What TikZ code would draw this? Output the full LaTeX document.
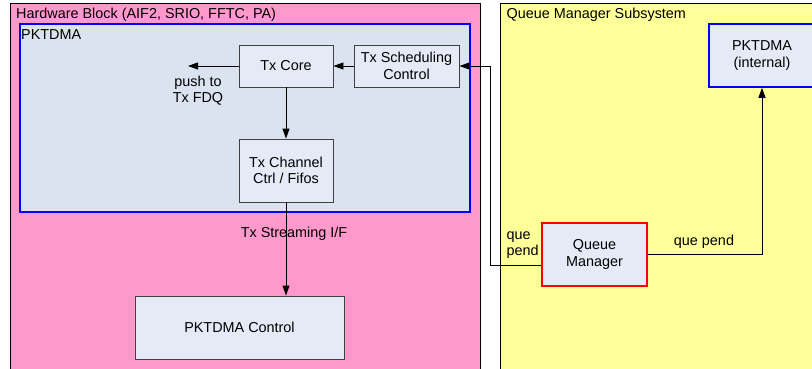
\documentclass[tikz,border=0pt]{standalone}
\usepackage{fontspec}
\setmainfont{Liberation Sans}
\usetikzlibrary{arrows.meta,positioning,calc}
\definecolor{hwpink}{RGB}{255,153,204}
\definecolor{qmyellow}{RGB}{255,255,153}
\definecolor{dmafill}{RGB}{220,227,240}
\definecolor{boxfill}{RGB}{228,234,246}
\definecolor{boxline}{RGB}{64,64,64}
\tikzset{
  x=1pt, y=-1pt,
  every node/.style={font=\fontsize{14.4}{16.5}\selectfont, inner sep=0pt},
  region/.style={draw=black, line width=0.9pt},
  block/.style={draw=boxline, fill=boxfill, line width=0.9pt, align=center},
  link/.style={draw=black, line width=0.9pt},
  tip/.style={-{Triangle[length=10pt,width=7pt]}},
  lbl/.style={align=center},
}
\begin{document}
\begin{tikzpicture}
\useasboundingbox (0,0) rectangle (812,368);
\begin{scope}
\clip (0,0) rectangle (812,368);
% subsystem regions
\draw[region, fill=hwpink] (10,3) rectangle (480,390);
\draw[region, fill=qmyellow] (500.5,3) rectangle (840,390);
% internal PKTDMA region of the hardware block
\draw[draw=blue, fill=dmafill, line width=1.6pt] (20,24) rectangle (470,212);

\node[anchor=west] (hwtitle) at (16,15) {Hardware Block (AIF2, SRIO, FFTC, PA)};
\node[anchor=west] (dmatitle) at (21,35) {PKTDMA};
\node[anchor=west] (qmtitle) at (506.5,15) {Queue Manager Subsystem};

% blocks
\node[block, minimum width=94pt, minimum height=42pt] (txcore) at (286,66) {Tx Core};
\node[block, minimum width=105pt, minimum height=42pt] (txsched) at (406.5,66) {Tx Scheduling\\Control};
\node[block, minimum width=94pt, minimum height=63pt] (txchan) at (286,170.5) {Tx Channel\\Ctrl / Fifos};
\node[block, minimum width=209pt, minimum height=63pt] (pktctl) at (239.5,327.5) {PKTDMA Control};
\node[block, draw=red, line width=1.6pt, minimum width=105pt, minimum height=63pt] (qm) at (594.5,254.5) {Queue\\Manager};
\node[block, draw=blue, line width=1.6pt, minimum width=106pt, minimum height=63pt] (pkti) at (762,55.5) {PKTDMA\\(internal)};

% connection points
\coordinate (pushend) at (188,66);
\coordinate (qmout) at ($(qm.west)+(0,10.5)$);
\coordinate (bendA) at (490.7,0);
\coordinate (bendB) at (762,0);

% connectors
\draw[link, tip] (txcore.west) -- (pushend);
\draw[link, tip] (txsched.west) -- (txcore.east);
\draw[link, tip] (txcore.south) -- (txchan.north);
\draw[link, tip] (txchan.south) -- (pktctl.north -| txchan.south);
\draw[link, tip] (qmout) -- (bendA |- qmout) -- (bendA |- txsched.east) -- (txsched.east);
\draw[link, tip] (qm.east) -- (bendB |- qm.east) -- (pkti.south);

% connector labels
\node[lbl] (pushlbl) at (198,90.5) {push to\\Tx FDQ};
\node[lbl] (streamlbl) at (294,233.3) {Tx Streaming I/F};
\node[lbl, anchor=west, align=left] (qplbl) at (506.5,245) {que\\pend};
\node[lbl] (qp2lbl) at (704,242) {que pend};
\end{scope}
\end{tikzpicture}
\end{document}
